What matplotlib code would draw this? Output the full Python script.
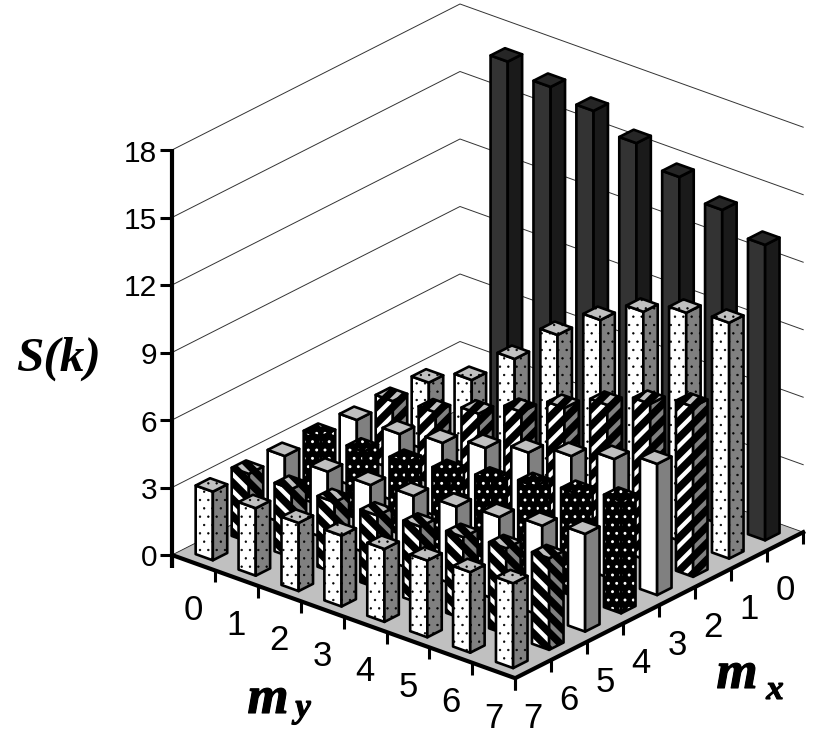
import matplotlib
matplotlib.use("Agg")
import matplotlib.pyplot as plt
from matplotlib.patches import Polygon
import matplotlib.patheffects as pe

# S(k) values: one list per m_x, indexed by m_y = 0..7
s_mx0 = [0.00, 17.17, 16.73, 16.35, 15.60, 14.78, 14.00, 13.13]
s_mx1 = [3.03, 3.83, 5.45, 7.20, 8.55, 9.60, 10.24, 10.48]
s_mx2 = [3.02, 3.20, 3.83, 4.59, 5.45, 6.27, 7.00, 7.56]
s_mx3 = [2.99, 3.05, 3.34, 3.80, 4.28, 4.81, 5.36, 5.83]
s_mx4 = [3.05, 3.08, 3.26, 3.49, 3.84, 4.28, 4.62, 5.00]
s_mx5 = [3.01, 3.00, 3.09, 3.29, 3.50, 3.72, 4.02, 4.34]
s_mx6 = [3.03, 3.04, 3.14, 3.23, 3.42, 3.64, 3.83, 4.07]
s_mx7 = [3.05, 3.00, 3.03, 3.15, 3.24, 3.41, 3.58, 3.77]
rows = [s_mx0, s_mx1, s_mx2, s_mx3, s_mx4, s_mx5, s_mx6, s_mx7]
z_ticks = [0, 3, 6, 9, 12, 15, 18]
cell_labels = ['0', '1', '2', '3', '4', '5', '6', '7']
row_styles = ['black', 'dots', 'up', 'plain', 'dense', 'plain', 'down', 'dots']

# projection
BX, BY = 460.0, 409.0
MYX, MYY = 42.9, 15.4
MXX, MXY = -36.0, 18.25
ZS = 22.5
N = 8
W = 0.4

def P(my, mx, z=0.0):
    return (BX + my * MYX + mx * MXX, BY + my * MYY + mx * MXY - z * ZS)

fig = plt.figure(figsize=(8.30, 7.39), dpi=100)
ax = fig.add_axes([0, 0, 1, 1])
ax.set_xlim(0, 830)
ax.set_ylim(739, 0)
ax.axis('off')
SANS = 'Liberation Sans'
SERIF = 'Liberation Serif'

# floor
ax.add_patch(Polygon([P(0, 0), P(N, 0), P(N, N), P(0, N)], closed=True,
                     facecolor='#c0c0c0', edgecolor='#222222', lw=0.6, zorder=1))
# wall grid
for z in z_ticks[1:]:
    ax.plot(*zip(P(0, N, z), P(0, 0, z), P(N, 0, z)), color='#333333', lw=0.7, zorder=1)

DOT_LW = 0.45
DENSE_LW = 0.9
STRIPE_LW = 5.4
FRONT = {'black': ('#333333', None, None, 0),
         'dots': ('white', '..', 'black', DOT_LW),
         'up': ('white', '//', 'black', STRIPE_LW),
         'down': ('white', '\\\\', 'black', STRIPE_LW),
         'plain': ('white', None, None, 0),
         'dense': ('black', '..', 'white', DENSE_LW)}
SIDE = {'black': ('#1a1a1a', None, None, 0),
        'dots': ('#808080', '..', 'black', DOT_LW),
        'up': ('#808080', '//', 'black', STRIPE_LW),
        'down': ('#808080', '\\\\', 'black', STRIPE_LW),
        'plain': ('#808080', None, None, 0),
        'dense': ('black', '..', 'white', DENSE_LW)}
TOP = {'black': ('#262626', None, None, 0),
       'dots': ('#c0c0c0', '..', 'black', DOT_LW),
       'up': ('#c0c0c0', '//', 'black', STRIPE_LW),
       'down': ('#c0c0c0', '\\\\', 'black', STRIPE_LW),
       'plain': ('#c0c0c0', None, None, 0),
       'dense': ('black', '..', 'white', DENSE_LW)}

def face(pts, spec, z):
    fc, hatch, hc, hl = spec
    if hatch:
        ax.add_patch(Polygon(pts, closed=True, facecolor=fc, edgecolor=hc, hatch=hatch,
                             hatch_linewidth=hl, lw=0, zorder=z))
    else:
        ax.add_patch(Polygon(pts, closed=True, facecolor=fc, edgecolor='none', zorder=z))
    ax.add_patch(Polygon(pts, closed=True, fill=False, edgecolor='black', lw=1.9,
                         joinstyle='round', zorder=z + 0.001))

def bar(my, mx, v, style, z):
    a0, a1 = my + 0.5 - W / 2, my + 0.5 + W / 2
    b0, b1 = mx + 0.5 - W / 2, mx + 0.5 + W / 2
    face([P(a0, b1), P(a1, b1), P(a1, b1, v), P(a0, b1, v)], FRONT[style], z)
    face([P(a1, b1), P(a1, b0), P(a1, b0, v), P(a1, b1, v)], SIDE[style], z + 0.002)
    face([P(a0, b1, v), P(a1, b1, v), P(a1, b0, v), P(a0, b0, v)], TOP[style], z + 0.004)

order = sorted(((my, mx) for mx in range(N) for my in range(N)), key=lambda c: c[0] + c[1])
for k, (my, mx) in enumerate(order):
    v = rows[mx][my]
    if v > 0:
        bar(my, mx, v, row_styles[mx], 2 + k * 0.01)

AZ = 10
# thick axes
ax.plot(*zip(P(0, N), P(N, N), P(N, 0)), color='black', lw=3.0, solid_joinstyle='miter', zorder=AZ)
xl, yl = P(0, N, 18)
_, y0 = P(0, N)
ax.plot([xl, xl], [yl - 1, y0 + 13], color='black', lw=3.0, solid_capstyle='butt', zorder=AZ)
for z in z_ticks:
    x, y = P(0, N, z)
    ax.plot([x - 12, x], [y, y], color='black', lw=2.2, solid_capstyle='butt', zorder=AZ)
    ax.text(x - 15, y + 0.5, str(z), ha='right', va='center_baseline', family=SANS, fontsize=21.5, zorder=AZ)
for i in range(N + 1):
    for pt in (P(i, N), P(N, i)):
        ax.plot([pt[0], pt[0]], [pt[1], pt[1] + 12], color='black', lw=2.2, solid_capstyle='butt', zorder=AZ)
for i, lab in enumerate(cell_labels):
    x, y = P(i + 0.5, N)
    ax.text(x, y + 44, lab, ha='center', va='center_baseline', family=SANS, fontsize=25, zorder=AZ)
    x, y = P(N, i + 0.5)
    ax.text(x, y + 46, lab, ha='center', va='center_baseline', family=SANS, fontsize=25, zorder=AZ)

bold = [pe.withStroke(linewidth=0.8, foreground='black')]
ax.text(58, 371, 'S(k)', ha='center', va='baseline', family=SERIF, style='italic', weight='bold', fontsize=35.5)
ax.text(268, 713, 'm', ha='center', va='baseline', family=SERIF, style='italic', weight='bold', fontsize=38, path_effects=bold)
ax.text(303, 717, 'y', ha='center', va='baseline', family=SERIF, style='italic', weight='bold', fontsize=25, path_effects=bold)
ax.text(737, 688, 'm', ha='center', va='baseline', family=SERIF, style='italic', weight='bold', fontsize=38, path_effects=bold)
ax.text(775, 699, 'x', ha='center', va='baseline', family=SERIF, style='italic', weight='bold', fontsize=25, path_effects=bold)

fig.savefig('out.png', dpi=100, facecolor='white')
